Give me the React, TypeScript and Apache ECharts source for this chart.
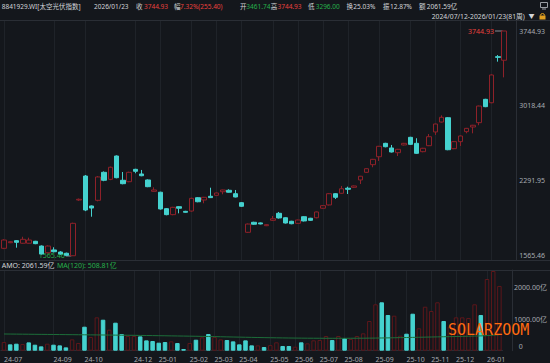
import React, { useEffect, useRef } from 'react';
import * as echarts from 'echarts';

// Weekly bars: last trading day of each week
const categories = [
  '2024-07-12','2024-07-19','2024-07-26','2024-08-02','2024-08-09','2024-08-16','2024-08-23','2024-08-30',
  '2024-09-06','2024-09-13','2024-09-20','2024-09-27','2024-09-30','2024-10-11','2024-10-18','2024-10-25',
  '2024-11-01','2024-11-08','2024-11-15','2024-11-22','2024-11-29','2024-12-06','2024-12-13','2024-12-20',
  '2024-12-27','2025-01-03','2025-01-10','2025-01-17','2025-01-24','2025-01-27','2025-02-07','2025-02-14',
  '2025-02-21','2025-02-28','2025-03-07','2025-03-14','2025-03-21','2025-03-28','2025-04-03','2025-04-11',
  '2025-04-18','2025-04-25','2025-04-30','2025-05-09','2025-05-16','2025-05-23','2025-05-30','2025-06-06',
  '2025-06-13','2025-06-20','2025-06-27','2025-07-04','2025-07-11','2025-07-18','2025-07-25','2025-08-01',
  '2025-08-08','2025-08-15','2025-08-22','2025-08-29','2025-09-05','2025-09-12','2025-09-19','2025-09-26',
  '2025-09-30','2025-10-10','2025-10-17','2025-10-24','2025-10-31','2025-11-07','2025-11-14','2025-11-21',
  '2025-11-28','2025-12-05','2025-12-12','2025-12-19','2025-12-26','2025-12-31','2026-01-09','2026-01-16',
  '2026-01-23',
];

// [open, close, low, high]
const candles: number[][] = [
  [1640,1720,1632,1728],[1694,1704,1690,1708],[1714,1698,1646,1718],[1689,1727,1685,1752],
  [1689,1720,1686,1743],[1708,1685,1680,1712],[1662,1585,1580,1668],[1597,1662,1590,1668],
  [1624,1607,1600,1650],[1604,1585,1578,1612],[1592,1572,1568,1598],[1568,1882,1565.46,1888],
  [2108,2115,2100,2122],[2340,2011,2000,2350],[2050,2030,1946,2055],[2105,2331,2095,2340],
  [2376,2299,2290,2385],[2308,2425,2300,2432],[2534,2324,2318,2540],[2299,2266,2260,2379],
  [2285,2376,2280,2382],[2405,2386,2367,2410],[2360,2343,2338,2399],[2302,2237,2232,2308],
  [2192,2205,2188,2231],[2183,2021,2015,2188],[2024,1966,1960,2030],[1966,2037,1960,2042],
  [2043,2028,1979,2047],[1998,1989,1985,2003],[2001,2124,1995,2130],[2130,2091,2086,2135],
  [2108,2134,2076,2138],[2144,2131,2127,2227],[2153,2176,2150,2180],[2188,2205,2163,2208],
  [2202,2183,2180,2212],[2169,2137,2133,2205],[2082,2047,2042,2088],[1795,1875,1790,1880],
  [1892,1873,1868,1897],[1886,1876,1872,1890],[1859,1869,1855,1873],[1911,1926,1905,1953],
  [1979,1934,1928,1992],[1936,1885,1880,1940],[1902,1878,1873,1906],[1882,1914,1878,1918],
  [1946,1905,1900,1950],[1931,1911,1906,1935],[1936,1992,1930,1996],[2028,2053,2024,2058],
  [2060,2169,2055,2175],[2169,2134,2118,2173],[2173,2217,2168,2244],[2222,2212,2166,2237],
  [2231,2244,2226,2248],[2302,2338,2263,2342],[2376,2411,2370,2415],[2450,2502,2425,2506],
  [2527,2628,2486,2632],[2657,2624,2618,2662],[2612,2573,2568,2641],[2566,2599,2534,2603],
  [2641,2657,2636,2661],[2715,2647,2642,2720],[2657,2560,2555,2706],[2576,2609,2570,2613],
  [2634,2721,2630,2747],[2767,2844,2738,2848],[2863,2909,2858,2928],[2905,2595,2590,2910],
  [2605,2673,2600,2678],[2673,2728,2631,2733],[2770,2802,2754,2806],[2815,2832,2754,2836],
  [2857,3018,2832,3022],[3083,3012,3007,3088],[3050,3319,3045,3325],[3496,3489.53,3448,3512],
  [3461.74,3744.93,3296,3744.93],
];

// Turnover (亿)
const volumes = [
  276,202,223,212,265,191,138,223,191,170,106,361,244,764,435,1062,
  987,669,892,531,467,467,456,329,308,255,276,297,244,53,244,350,
  425,531,435,361,340,297,202,329,170,170,117,178,267,150,150,127,
  267,234,330,340,468,340,468,395,372,468,553,946,1477,1541,1137,1115,
  478,541,1178,713,1401,1264,1541,946,764,1062,1062,1040,1477,1137,2283,2538,
  2061.59,
];

// MA(120) of turnover (亿)
const volumeMA120 = [
  532,530,528,526,524,522,520,518,516,514,512,
  510,508,506,504,502,500,498,496,494,492,
  490,487,484,481,478,475,472,469,466,463,
  460,456,452,448,444,440,436,432,428,424,420,416,413,
  410,407,404,402,400,398,397,396,395,395,395,395,396,397,398,400,402,
  405,408,412,416,420,424,428,432,436,440,
  444,448,452,456,461,466,472,480,494,508.81,
];

const priceTicks = [1565.46, 2291.95, 3018.44, 3744.93];
const volumeTicks = [1000, 2000];

const BG = '#14171c';
const CYAN = '#45d2cf';
const RED = '#8e2129';
const VRED = '#5e171b';
const TXT = '#d2d4d8';
const AXT = '#a6aab0';
const REDT = '#e8413c';
const GRNT = '#26b04b';
const LINE = '#2a2e35';
const FONT = '"Noto Sans", "Noto Sans CJK SC", sans-serif';

export default function App() {
  const ref = useRef<HTMLDivElement>(null);
  useEffect(() => {
    document.body.style.margin = '0';
    document.body.style.background = BG;
    if (!ref.current) return;
    const chart = echarts.init(ref.current, undefined, { renderer: 'svg' });

    // month label positions: first week of each month, skipping crowded ones
    const shown: number[] = [];
    categories.forEach((d, i) => {
      const m = d.slice(0, 7);
      if (i === 0 || m !== categories[i - 1].slice(0, 7)) {
        if (shown.length === 0 || i - shown[shown.length - 1] >= 4) shown.push(i);
      }
    });
    const shownSet = new Set(shown);
    const vLines = shown.map((i) => ({ xAxis: categories[i] }));

    const volData = volumes.map((v, i) => {
      const prevClose = i === 0 ? candles[0][0] : candles[i - 1][1];
      const up = candles[i][1] >= prevClose;
      return {
        value: v,
        itemStyle: up
          ? { color: BG, borderColor: VRED, borderWidth: 1 }
          : { color: CYAN, borderColor: CYAN, borderWidth: 1 },
      };
    });

    const gridL = 0.875;
    const gridW = 506.25;

    chart.setOption({
      animation: false,
      backgroundColor: BG,
      textStyle: { fontFamily: FONT },
      grid: [
        { left: gridL, width: gridW, top: 21, height: 239 },
        { left: gridL, width: gridW, top: 270, height: 80.7 },
      ],
      xAxis: [
        {
          type: 'category', gridIndex: 0, data: categories, boundaryGap: true,
          axisLine: { show: false }, axisTick: { show: false }, axisLabel: { show: false }, splitLine: { show: false },
        },
        {
          type: 'category', gridIndex: 1, data: categories, boundaryGap: true,
          axisLine: { show: true, lineStyle: { color: LINE } }, axisTick: { show: false }, splitLine: { show: false },
          axisLabel: {
            interval: (idx: number) => shownSet.has(idx),
            formatter: (v: string) => v.slice(2, 7),
            showMinLabel: true,
            align: 'left', margin: 5, color: AXT, fontSize: 7, fontFamily: FONT,
          },
        },
      ],
      yAxis: [
        {
          type: 'value', gridIndex: 0, position: 'right', offset: 9.6, min: 1526.7, max: 3841.8,
          axisLine: { show: true, lineStyle: { color: LINE } }, axisTick: { show: false }, splitLine: { show: false },
          axisLabel: {
            customValues: priceTicks, formatter: (v: number) => v.toFixed(2),
            color: AXT, fontSize: 7, margin: 2.5, fontFamily: FONT,
          },
        },
        {
          type: 'value', gridIndex: 1, position: 'right', offset: 9.6, min: 0, max: 2570,
          axisLine: { show: true, lineStyle: { color: LINE } }, axisTick: { show: false }, splitLine: { show: false },
          axisLabel: {
            customValues: volumeTicks, formatter: (v: number) => v.toFixed(2) + '亿',
            color: AXT, fontSize: 7, margin: 2, fontFamily: FONT,
          },
        },
      ],
      series: [
        {
          type: 'candlestick', xAxisIndex: 0, yAxisIndex: 0, data: candles, barWidth: 5,
          itemStyle: { color: BG, color0: CYAN, borderColor: RED, borderColor0: CYAN, borderWidth: 1 },
          markLine: {
            silent: true, symbol: ['none', 'none'], label: { show: false },
            lineStyle: { color: '#1f2329', type: 'solid', width: 1 }, data: vLines, z: 0,
          },
        },
        {
          type: 'bar', xAxisIndex: 1, yAxisIndex: 1, data: volData, barWidth: 4.5,
          markLine: {
            silent: true, symbol: ['none', 'none'], label: { show: false },
            lineStyle: { color: '#1f2329', type: 'solid', width: 1 }, data: vLines, z: 0,
          },
        },
        {
          type: 'line', xAxisIndex: 1, yAxisIndex: 1, data: volumeMA120, symbol: 'none',
          lineStyle: { color: '#1d6e3a', width: 1 }, z: 5,
        },
      ],
    });

    // markers for max high / min low
    let maxI = 0, minI = 0;
    candles.forEach((c, i) => {
      if (c[3] > candles[maxI][3]) maxI = i;
      if (c[2] < candles[minI][2]) minI = i;
    });
    const pMax = chart.convertToPixel({ xAxisIndex: 0, yAxisIndex: 0 }, [maxI, candles[maxI][3]]) as number[];
    const pMin = chart.convertToPixel({ xAxisIndex: 0, yAxisIndex: 0 }, [minI, candles[minI][2]]) as number[];

    const t = (x: number, y: number, text: string, fill: string, extra: any = {}, size = 7) => ({
      type: 'text', x, y,
      style: { text, fill, font: `${size}px ${FONT}`, verticalAlign: 'middle', ...extra },
      silent: true,
    });

    const header: [number, string, string][] = [
      [1.7, '8841929.WI[太空光伏指数]', TXT],
      [94, '2026/01/23', TXT],
      [136, '收', TXT], [144, '3744.93', REDT],
      [174, '幅', TXT], [180, '7.32%(255.40)', REDT],
      [240, '开', TXT], [246.3, '3461.74', GRNT],
      [270.8, '高', TXT], [277.5, '3744.93', REDT],
      [308, '低', TXT], [315.7, '3296.00', GRNT],
      [346.5, '换', TXT], [353.3, '25.03%', TXT],
      [383, '振', TXT], [390, '12.87%', TXT],
      [419, '额', TXT], [426.7, '2061.59亿', TXT],
    ];

    const graphics: any[] = [
      { type: 'line', shape: { x1: 0, y1: 20.5, x2: 550, y2: 20.5 }, style: { stroke: LINE, lineWidth: 1 }, silent: true },
      { type: 'line', shape: { x1: 0, y1: 260.5, x2: 550, y2: 260.5 }, style: { stroke: LINE, lineWidth: 1 }, silent: true },
      { type: 'line', shape: { x1: 0, y1: 270.5, x2: 550, y2: 270.5 }, style: { stroke: LINE, lineWidth: 1 }, silent: true },
      ...header.map(([x, s, c]) => t(x, 6, s, c, {}, 6.5)),
      t(431.7, 16.3, '2024/07/12-2026/01/23(81周)', TXT, {}, 6.8),
      t(528.5, 16.3, '▼', TXT, {}, 6),
      // monitor icon
      { type: 'rect', shape: { x: 540.5, y: 2.5, width: 7, height: 5 }, style: { fill: 'none', stroke: '#9a9ea4', lineWidth: 1 }, silent: true },
      { type: 'line', shape: { x1: 542, y1: 9, x2: 546, y2: 9 }, style: { stroke: '#9a9ea4', lineWidth: 1 }, silent: true },
      // lock icon
      { type: 'rect', shape: { x: 539.5, y: 15.5, width: 6, height: 4 }, style: { fill: '#e0a020' }, silent: true },
      { type: 'arc', shape: { cx: 542.5, cy: 15.5, r: 2, startAngle: Math.PI, endAngle: 0 }, style: { fill: 'none', stroke: '#e0a020', lineWidth: 1 }, silent: true },
      // volume header
      t(1.7, 265.5, 'AMO: 2061.59亿', TXT),
      t(57, 265.5, 'MA(120): 508.81亿', GRNT),
      // volume zero label
      t(518.7, 346.5, '0', AXT),
      // max / min markers
      t(pMax[0] - 10, pMax[1], candles[maxI][3].toFixed(2), REDT, { align: 'right' }),
      { type: 'line', shape: { x1: pMax[0] - 9, y1: pMax[1], x2: pMax[0] - 1.5, y2: pMax[1] }, style: { stroke: '#8a8e94', lineWidth: 1 }, silent: true },
      t(pMin[0] - 8, pMin[1], candles[minI][2].toFixed(2), GRNT, { align: 'right' }),
      { type: 'line', shape: { x1: pMin[0] - 7, y1: pMin[1], x2: pMin[0] - 1.5, y2: pMin[1] }, style: { stroke: '#8a8e94', lineWidth: 1 }, silent: true },
      // watermark
      {
        type: 'text', x: 448, y: 322, silent: true, z: 100,
        style: { text: 'SOLARZOOM', fill: '#ff6a10', font: '15px "DejaVu Sans Mono", monospace', verticalAlign: 'top' },
      },
    ];

    chart.setOption({ graphic: graphics });

    return () => chart.dispose();
  }, []);

  return <div ref={ref} style={{ width: 550, height: 363, background: BG }} />;
}
